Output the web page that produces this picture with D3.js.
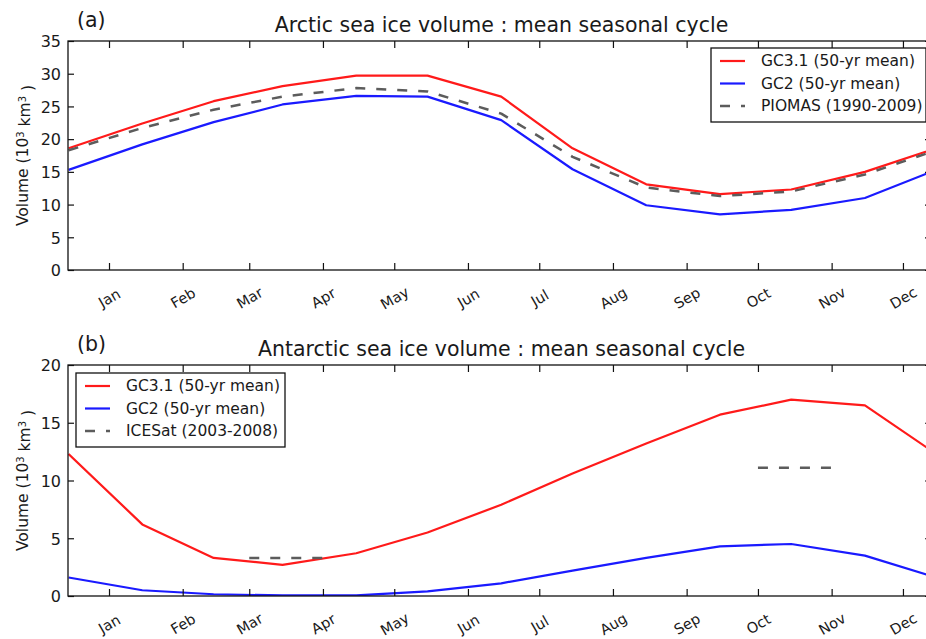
<!DOCTYPE html>
<html>
<head>
<meta charset="utf-8">
<script src="https://cdn.jsdelivr.net/npm/d3@7/dist/d3.min.js"></script>
<style>
  html, body { margin: 0; padding: 0; background: #fff; }
  svg { display: block; }
  text { font-family: "DejaVu Sans", sans-serif; fill: #1a1a1a; }
</style>
</head>
<body>
<svg id="chart" width="926" height="639"></svg>
<script>
// Month axis (day of year, ticks on the first of each month)
const monthLabels = ["Jan", "Feb", "Mar", "Apr", "May", "Jun", "Jul", "Aug", "Sep", "Oct", "Nov", "Dec"];
const monthStartDay = [0, 31, 59, 90, 120, 151, 181, 212, 243, 273, 304, 334];
// Monthly means are placed mid-month; the leading December closes the cycle
const sampleDay = [-17, 14, 44, 73, 104, 134, 165, 195, 226, 257, 287, 318, 348];

// Arctic volume, 10^3 km^3, Jan..Dec
const arcticGC31 = [22.4, 25.8, 28.1, 29.7, 29.7, 26.5, 18.6, 13.1, 11.6, 12.3, 15.0, 18.6];
const arcticGC2 = [19.2, 22.6, 25.3, 26.6, 26.5, 22.9, 15.4, 9.9, 8.5, 9.2, 11.0, 15.3];
const arcticPIOMAS = [21.7, 24.5, 26.5, 27.8, 27.3, 23.9, 17.3, 12.6, 11.3, 12.0, 14.6, 18.3];

// Antarctic volume, 10^3 km^3, Jan..Dec
const antarcticGC31 = [6.2, 3.3, 2.7, 3.7, 5.5, 7.9, 10.6, 13.2, 15.7, 17.0, 16.5, 12.3];
const antarcticGC2 = [0.5, 0.15, 0.05, 0.05, 0.4, 1.1, 2.2, 3.3, 4.3, 4.5, 3.5, 1.6];
// ICESat campaign means, drawn across the month they represent
const icesatMonth = [2, 9];
const icesatValue = [3.3, 11.1];

const arcticTicks = [0, 5, 10, 15, 20, 25, 30, 35];
const antarcticTicks = [0, 5, 10, 15, 20];

const arcticLegend = ["GC3.1 (50-yr mean)", "GC2 (50-yr mean)", "PIOMAS (1990-2009)"];
const antarcticLegend = ["GC3.1 (50-yr mean)", "GC2 (50-yr mean)", "ICESat (2003-2008)"];

const RED = "#ff1a1a", BLUE = "#1a1aff", GREY = "#5c5c5c";
const DASH = "10,11";

const svg = d3.select("#chart");
const left = 68, right = 931;

const x = d3.scaleLinear().domain([-17.25, 345.8]).range([left, right]);

function withDecember(vals) {
  return [vals[11]].concat(vals).map((v, i) => [sampleDay[i], v]);
}

function panel(opts) {
  const { top, bottom, yMax, ticks, tag, title, clipId } = opts;
  const y = d3.scaleLinear().domain([0, yMax]).range([bottom, top]);
  const g = svg.append("g");

  g.append("clipPath").attr("id", clipId)
    .append("rect").attr("x", left).attr("y", top)
    .attr("width", right - left).attr("height", bottom - top);

  const plot = g.append("g").attr("clip-path", `url(#${clipId})`);
  const line = d3.line().x(d => x(d[0])).y(d => y(d[1]));

  opts.series.forEach(s => {
    plot.append("path")
      .datum(s.data)
      .attr("d", line)
      .attr("fill", "none")
      .attr("stroke", s.color)
      .attr("stroke-width", s.width || 2.2)
      .attr("stroke-dasharray", s.dash || null)
      .attr("stroke-linejoin", "round");
  });

  // axes with inward ticks
  const yAxis = g.append("g").attr("transform", `translate(${left},0)`)
    .call(d3.axisLeft(y).tickValues(ticks).tickSizeInner(-6).tickSizeOuter(0).tickPadding(7));
  yAxis.selectAll("text").style("font-size", "16px").attr("dy", "0.36em");

  g.append("g").attr("transform", `translate(${right},0)`)
    .call(d3.axisRight(y).tickValues(ticks).tickSizeInner(-6).tickSizeOuter(0).tickFormat(""));

  const xAxis = g.append("g").attr("transform", `translate(0,${bottom})`)
    .call(d3.axisBottom(x).tickValues(monthStartDay).tickSizeInner(-7).tickSizeOuter(0)
      .tickFormat((d, i) => monthLabels[i]));
  xAxis.selectAll("text")
    .style("font-size", "14.5px")
    .attr("y", 0).attr("dy", "0.35em")
    .attr("text-anchor", "middle")
    .attr("transform", "translate(0,28) rotate(-30)");

  g.append("g").attr("transform", `translate(0,${top})`)
    .call(d3.axisTop(x).tickValues(monthStartDay).tickSizeInner(-7).tickSizeOuter(0).tickFormat(""));

  g.selectAll(".domain").remove();
  g.selectAll(".tick line").attr("stroke", "#111").attr("stroke-width", 1.2);

  g.append("rect").attr("x", left).attr("y", top)
    .attr("width", right - left).attr("height", bottom - top)
    .attr("fill", "none").attr("stroke", "#111").attr("stroke-width", 1.3);

  // titles
  g.append("text").attr("x", (left + right) / 2 + 2).attr("y", top - 9)
    .attr("text-anchor", "middle").style("font-size", "20.5px").text(title);
  g.append("text").attr("x", 77).attr("y", top - 14)
    .style("font-size", "20.5px").text(tag);

  const yl = g.append("text")
    .attr("transform", `translate(28,${(top + bottom) / 2}) rotate(-90)`)
    .attr("text-anchor", "middle").style("font-size", "15.5px");
  yl.append("tspan").text("Volume (10");
  yl.append("tspan").attr("dy", "-0.45em").style("font-size", "10px").text("3");
  yl.append("tspan").attr("dy", "0.45em").text(" km");
  yl.append("tspan").attr("dy", "-0.45em").style("font-size", "10px").text("3");
  yl.append("tspan").attr("dy", "0.45em").text(" )");

  // legend
  const L = opts.legend;
  const lg = g.append("g").attr("transform", `translate(${L.x},${L.y})`);
  lg.append("rect").attr("width", L.w).attr("height", 74)
    .attr("fill", "#fff").attr("stroke", "#111").attr("stroke-width", 1.3);
  opts.series.forEach((s, i) => {
    const ry = 13 + i * 22.5;
    lg.append("line").attr("x1", 9).attr("x2", 34).attr("y1", ry).attr("y2", ry)
      .attr("stroke", s.color).attr("stroke-width", s.width || 2.2)
      .attr("stroke-dasharray", s.dash || null);
    lg.append("text").attr("x", 50).attr("y", ry).attr("dy", "0.35em")
      .style("font-size", "15.5px").text(L.labels[i]);
  });

  return { y, plot };
}

// (a) Arctic
panel({
  top: 41, bottom: 270, yMax: 35, ticks: arcticTicks, tag: "(a)", clipId: "clipA",
  title: "Arctic sea ice volume : mean seasonal cycle",
  series: [
    { data: withDecember(arcticGC31), color: RED },
    { data: withDecember(arcticGC2), color: BLUE },
    { data: withDecember(arcticPIOMAS), color: GREY, dash: DASH, width: 2.5 }
  ],
  legend: { x: 711, y: 48, w: 215, labels: arcticLegend }
});

// (b) Antarctic
const b = panel({
  top: 365, bottom: 596, yMax: 20, ticks: antarcticTicks, tag: "(b)", clipId: "clipB",
  title: "Antarctic sea ice volume : mean seasonal cycle",
  series: [
    { data: withDecember(antarcticGC31), color: RED },
    { data: withDecember(antarcticGC2), color: BLUE },
    { data: [], color: GREY, dash: DASH, width: 2.5 }
  ],
  legend: { x: 76, y: 373, w: 209, labels: antarcticLegend }
});

icesatMonth.forEach((m, i) => {
  const d0 = monthStartDay[m], d1 = monthStartDay[m + 1];
  b.plot.append("line")
    .attr("x1", x(d0)).attr("x2", x(d1))
    .attr("y1", b.y(icesatValue[i])).attr("y2", b.y(icesatValue[i]))
    .attr("stroke", GREY).attr("stroke-width", 2.5).attr("stroke-dasharray", DASH);
});
</script>
</body>
</html>
